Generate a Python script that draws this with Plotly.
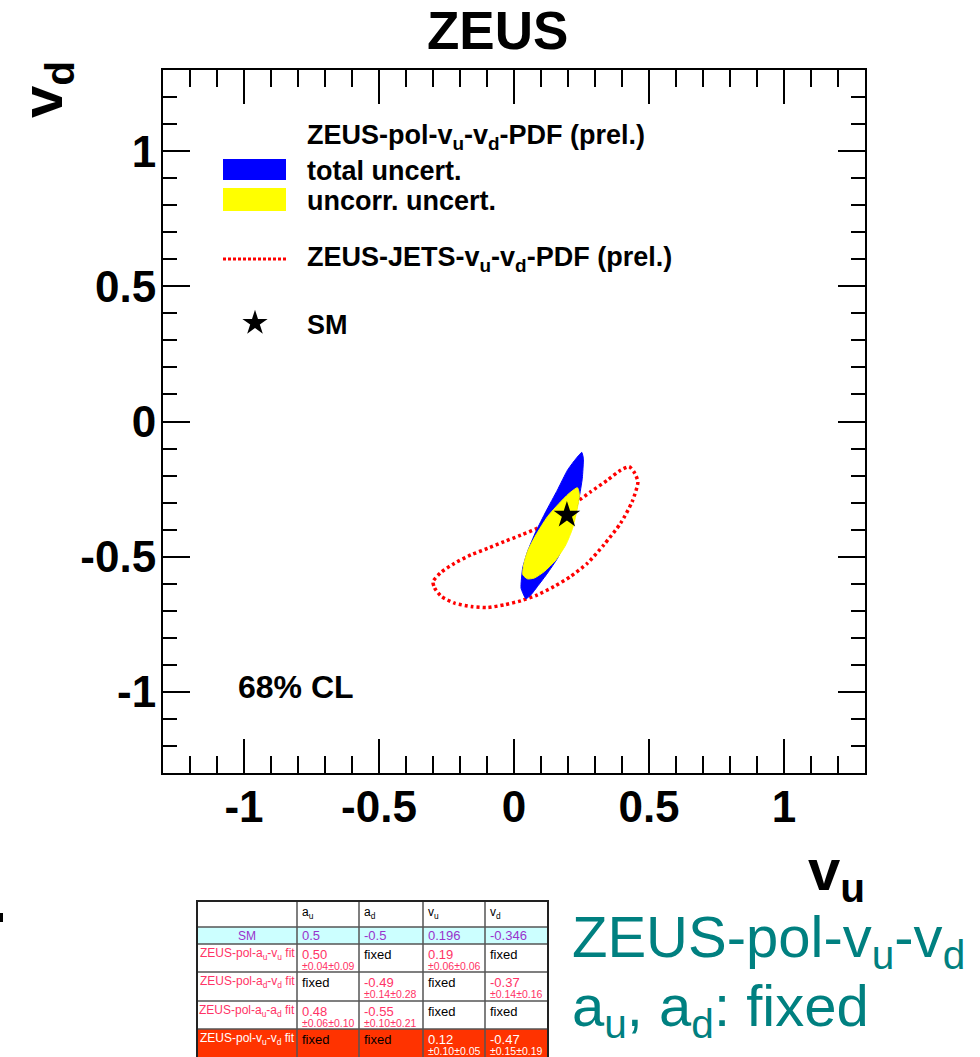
import plotly.graph_objects as go

# ---------------- data ----------------
sm_vu = [0.196]
sm_vd = [-0.346]

# total uncertainty (blue) contour, 68% CL
total_vu = [0.251, 0.257, 0.253, 0.241, 0.223, 0.198, 0.161, 0.124, 0.087, 0.063,
            0.044, 0.026, 0.032, 0.050, 0.081, 0.118, 0.161, 0.198, 0.225, 0.251]
total_vd = [-0.114, -0.137, -0.210, -0.284, -0.358, -0.432, -0.506, -0.561, -0.610, -0.641,
            -0.656, -0.616, -0.542, -0.481, -0.407, -0.333, -0.253, -0.180, -0.143, -0.114]

# uncorrelated uncertainty (yellow) contour
uncorr_vu = [0.235, 0.242, 0.232, 0.217, 0.192, 0.155, 0.112, 0.075, 0.050, 0.033,
             0.036, 0.050, 0.081, 0.124, 0.167, 0.204, 0.235]
uncorr_vd = [-0.245, -0.272, -0.333, -0.395, -0.456, -0.512, -0.555, -0.579, -0.582, -0.567,
             -0.530, -0.481, -0.420, -0.352, -0.303, -0.266, -0.245]

# ZEUS-JETS contour (red dotted)
jets_vu = [-0.300, -0.294, -0.269, -0.220, -0.159, -0.097, -0.036, 0.026, 0.087, 0.149,
           0.210, 0.272, 0.333, 0.395, 0.438, 0.459, 0.444, 0.426, 0.395, 0.346,
           0.284, 0.235, 0.173, 0.100, 0.026, -0.036, -0.097, -0.159, -0.220, -0.269, -0.300]
jets_vd = [-0.592, -0.616, -0.647, -0.672, -0.684, -0.688, -0.678, -0.663, -0.641, -0.610,
           -0.573, -0.524, -0.456, -0.376, -0.296, -0.223, -0.186, -0.167, -0.180, -0.217,
           -0.260, -0.296, -0.346, -0.389, -0.420, -0.444, -0.469, -0.493, -0.524, -0.557, -0.592]

tick_vals = [-1, -0.5, 0, 0.5, 1]
tick_text = ["-1", "-0.5", "0", "0.5", "1"]

# table content
table_header = ["", "a<sub>u</sub>", "a<sub>d</sub>", "v<sub>u</sub>", "v<sub>d</sub>"]
table_labels = ["SM",
                "ZEUS-pol-a<sub>u</sub>-v<sub>u</sub> fit",
                "ZEUS-pol-a<sub>d</sub>-v<sub>d</sub> fit",
                "ZEUS-pol-a<sub>u</sub>-a<sub>d</sub> fit",
                "ZEUS-pol-v<sub>u</sub>-v<sub>d</sub> fit"]
table_values = [["0.5", "-0.5", "0.196", "-0.346"],
                ["0.50", "fixed", "0.19", "fixed"],
                ["fixed", "-0.49", "fixed", "-0.37"],
                ["0.48", "-0.55", "fixed", "fixed"],
                ["fixed", "fixed", "0.12", "-0.47"]]
table_errors = [["", "", "", ""],
                ["±0.04±0.09", "", "±0.06±0.06", ""],
                ["", "±0.14±0.28", "", "±0.14±0.16"],
                ["±0.06±0.10", "±0.10±0.21", "", ""],
                ["", "", "±0.10±0.05", "±0.15±0.19"]]

# ---------------- layout helpers ----------------
W, H = 980, 1057
L, R, T, B = 163, 865, 70, 773


def fx(X):
    return (X - L) / (R - L)


def fy(Y):
    return (B - Y) / (B - T)


FONT = "Liberation Sans"

fig = go.Figure()

fig.add_trace(go.Scatter(x=jets_vu, y=jets_vd, mode="lines",
                         line=dict(color="#ff0000", width=3.5, dash="3px,3px", shape="spline", smoothing=0.6),
                         hoverinfo="skip", showlegend=False))
fig.add_trace(go.Scatter(x=total_vu, y=total_vd, mode="lines", fill="toself",
                         fillcolor="#0000ff", line=dict(color="#0000ff", width=1, shape="spline", smoothing=0.4),
                         hoverinfo="skip", showlegend=False))
fig.add_trace(go.Scatter(x=uncorr_vu, y=uncorr_vd, mode="lines", fill="toself",
                         fillcolor="#ffff00", line=dict(color="#ffff00", width=1, shape="spline", smoothing=0.6),
                         hoverinfo="skip", showlegend=False))
fig.add_trace(go.Scatter(x=sm_vu, y=sm_vd, mode="markers",
                         marker=dict(symbol="star", size=20, color="black"),
                         hoverinfo="skip", showlegend=False))

# legend star key on an overlay axis in frame-fraction units
fig.add_trace(go.Scatter(x=[fx(255)], y=[fy(323)], mode="markers", xaxis="x2", yaxis="y2",
                         marker=dict(symbol="star", size=19, color="black"),
                         hoverinfo="skip", showlegend=False))

axis_common = dict(showline=True, linewidth=2, linecolor="black", mirror="ticks",
                   ticks="inside", tickwidth=1.5, tickcolor="black",
                   showgrid=False, zeroline=False, range=[-1.3, 1.3],
                   tickmode="array", tickvals=tick_vals, ticktext=tick_text,
                   tickfont=dict(family=FONT, size=44, color="black", weight="bold"))

fig.update_layout(
    width=W, height=H, autosize=False,
    margin=dict(l=L, r=W - R, t=T, b=H - B, pad=0),
    paper_bgcolor="white", plot_bgcolor="white",
    xaxis=dict(**axis_common, ticklen=34, ticklabelstandoff=-6,
               minor=dict(ticks="inside", ticklen=17, tickwidth=1.5, tickcolor="black",
                          tickmode="linear", tick0=0, dtick=0.1, showgrid=False)),
    yaxis=dict(**axis_common, ticklen=27, ticklabelstandoff=-4,
               minor=dict(ticks="inside", ticklen=14, tickwidth=1.5, tickcolor="black",
                          tickmode="linear", tick0=0, dtick=0.1, showgrid=False)),
    xaxis2=dict(overlaying="x", range=[0, 1], visible=False, fixedrange=True),
    yaxis2=dict(overlaying="y", range=[0, 1], visible=False, fixedrange=True),
)

annotations = []
shapes = []


def text(X, Y, s, size, color="black", bold=True, anchor="left", yanchor="middle", family=FONT, angle=0):
    annotations.append(dict(x=fx(X), y=fy(Y), xref="paper", yref="paper", text=s, showarrow=False,
                            xanchor=anchor, yanchor=yanchor, textangle=angle,
                            font=dict(family=family, size=size, color=color,
                                      weight="bold" if bold else "normal")))


def rect(x0, y0, x1, y1, fill, line_color=None, line_width=0):
    shapes.append(dict(type="rect", xref="paper", yref="paper",
                       x0=fx(x0), x1=fx(x1), y0=fy(y1), y1=fy(y0),
                       fillcolor=fill, line=dict(color=line_color or fill, width=line_width), layer="above"))


def hline(x0, x1, y, color, width, dash="solid"):
    shapes.append(dict(type="line", xref="paper", yref="paper", x0=fx(x0), x1=fx(x1), y0=fy(y), y1=fy(y),
                       line=dict(color=color, width=width, dash=dash), layer="above"))


def vline(x, y0, y1, color, width):
    shapes.append(dict(type="line", xref="paper", yref="paper", x0=fx(x), x1=fx(x), y0=fy(y0), y1=fy(y1),
                       line=dict(color=color, width=width), layer="above"))


# title and axis titles
text(497, 31, "ZEUS", 53, anchor="center")
text(46, 90, "v<sub>d</sub>", 58, anchor="center", angle=-90)
text(806, 874, "v<sub>u</sub>", 58)

# legend
text(305, 137, "ZEUS-pol-v<sub>u</sub>-v<sub>d</sub>-PDF (prel.)", 27)
rect(223, 159, 286, 180, "#0000ff")
text(305, 171, "total uncert.", 27)
rect(223, 188, 286, 211, "#ffff00")
text(305, 201, "uncorr. uncert.", 27)
hline(223, 286, 259, "#ff0000", 3, dash="3px,2px")
text(305, 259, "ZEUS-JETS-v<sub>u</sub>-v<sub>d</sub>-PDF (prel.)", 27)
text(305, 325, "SM", 27)
text(236, 687, "68% CL", 32)

# small mark at the left edge
rect(0, 913, 3, 922, "black")

# ---------------- table ----------------
col_x = [197, 297, 359, 423, 485, 548]
row_y = [901, 927, 944, 972, 1001, 1029, 1064]
row_fill = ["white", "#ccffff", "white", "white", "white", "#ff3300"]
grid_color = "#555555"

for r in range(6):
    rect(col_x[0], row_y[r], col_x[-1], row_y[r + 1], row_fill[r])
for yv in row_y[1:-1]:
    hline(col_x[0], col_x[-1], yv, grid_color, 1.5)
for xv in col_x[1:-1]:
    vline(xv, row_y[0], row_y[-1], grid_color, 1.5)
# outer border
shapes.append(dict(type="rect", xref="paper", yref="paper", x0=fx(col_x[0]), x1=fx(col_x[-1]),
                   y0=fy(row_y[-1]), y1=fy(row_y[0]), line=dict(color="#222222", width=2),
                   fillcolor="rgba(0,0,0,0)", layer="above"))

for c in range(1, 5):
    text(col_x[c] + 3, 913, table_header[c], 12, bold=False)

label_colors = ["#9933cc", "#ff3366", "#ff3366", "#ff3366", "white"]
value_colors = ["#9933cc", "#ff3366", "#ff3366", "#ff3366", "white"]
for r in range(5):
    ry = row_y[r + 1]
    main_y = ry + 9 if r == 0 else ry + 10
    text((col_x[0] + col_x[1]) / 2, main_y, table_labels[r], 12, color=label_colors[r], bold=False, anchor="center")
    for c in range(4):
        v = table_values[r][c]
        col = "black" if v == "fixed" else value_colors[r]
        text(col_x[c + 1] + 3, main_y, v, 13, color=col, bold=False)
        e = table_errors[r][c]
        if e:
            text(col_x[c + 1] + 3, ry + 22, e, 10.5, color=value_colors[r], bold=False)

# teal summary text
text(570, 941, "ZEUS-pol-v<sub>u</sub>-v<sub>d</sub>", 58, color="#008080", bold=False)
text(570, 1010, "a<sub>u</sub>, a<sub>d</sub>: fixed", 58, color="#008080", bold=False)

fig.update_layout(annotations=annotations, shapes=shapes)

fig.write_html("out.html")
